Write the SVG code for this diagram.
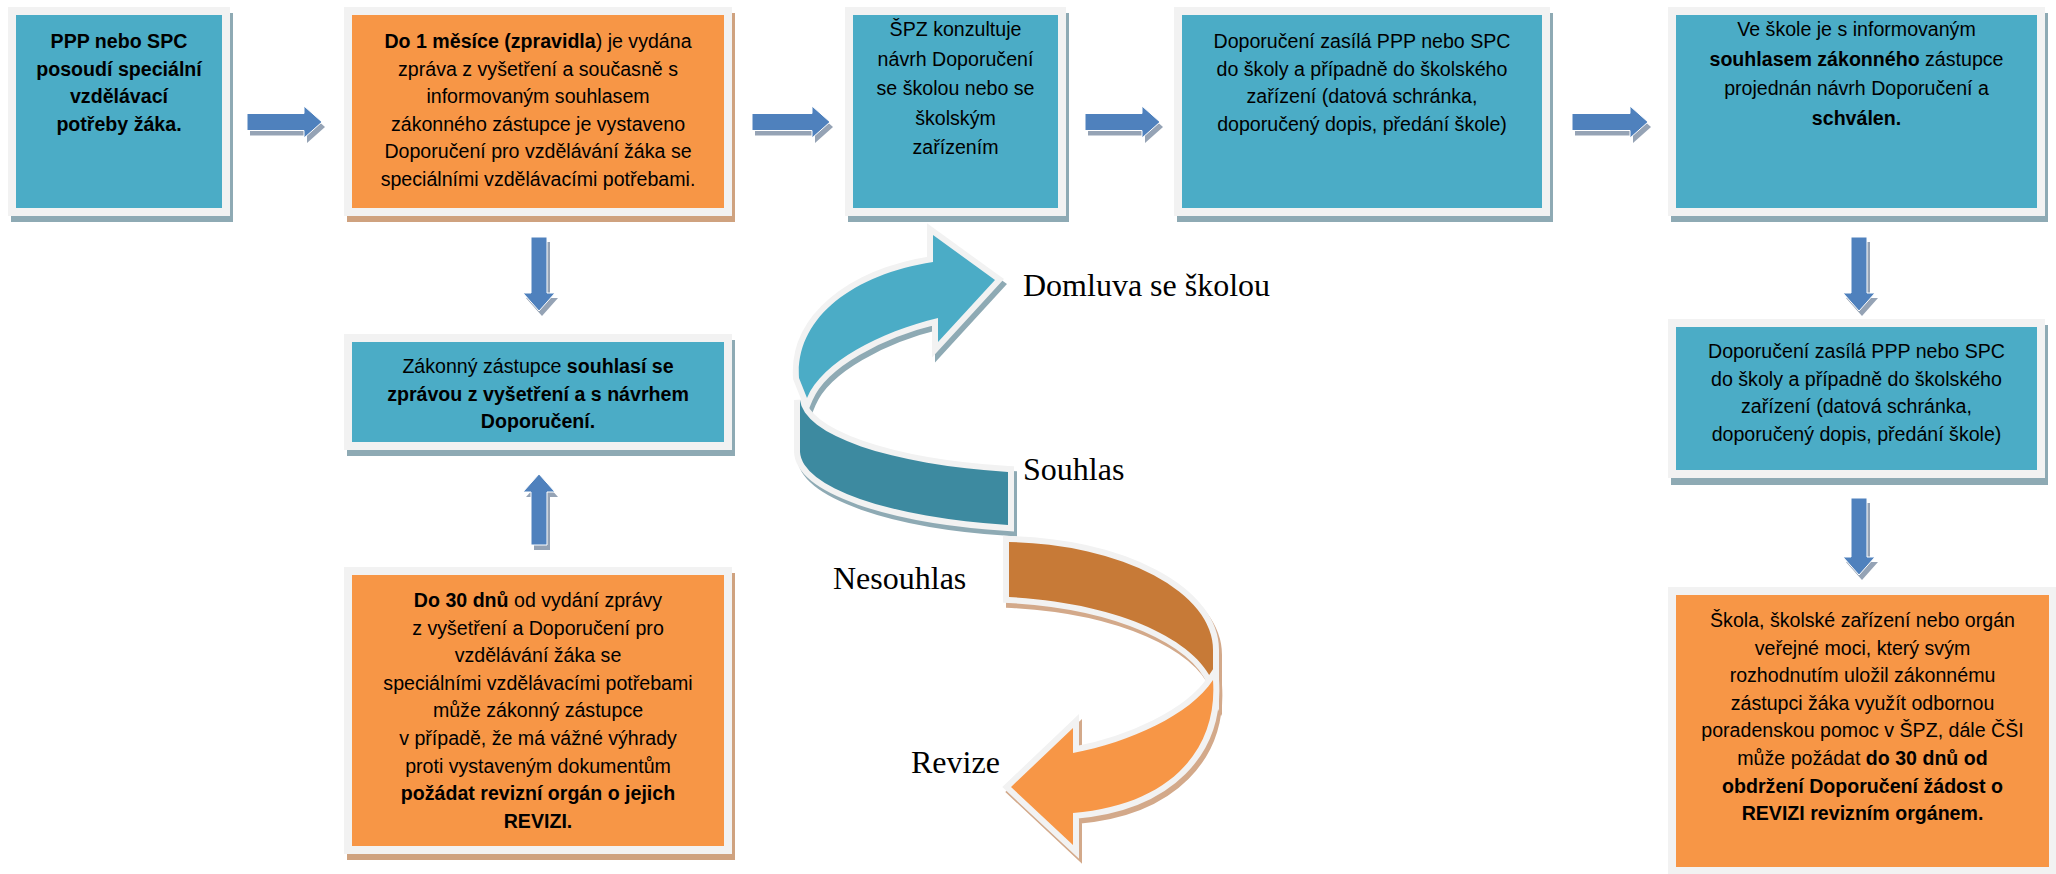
<svg xmlns="http://www.w3.org/2000/svg" width="2056" height="874" viewBox="0 0 2056 874">
<style>
.frame{fill:#f2f2f2}
.teal{fill:#4bacc6}
.orange{fill:#f79646}
.shT{fill:#8eaab4}
.shO{fill:#cfa27f}
.t{font-family:"Liberation Sans",Arial,sans-serif;font-size:19.6px;fill:#000;text-anchor:middle}
.b{font-weight:bold}
.lbl{font-family:"Liberation Serif","Times New Roman",serif;font-size:32px;fill:#000}
.arr{fill:#4f81bd;stroke:#ffffff;stroke-width:1}
.arrsh{fill:#95a3b5}
.rib{stroke:#f2f2f2;stroke-width:12;stroke-linejoin:miter;stroke-miterlimit:6;paint-order:stroke}
.ribShT{fill:#8eaab4;stroke:#8eaab4;stroke-width:12;stroke-linejoin:miter;stroke-miterlimit:6}
.ribShO{fill:#d3a98a;stroke:#d3a98a;stroke-width:12;stroke-linejoin:miter;stroke-miterlimit:6}
</style>
<rect width="2056" height="874" fill="#ffffff"/>

<g id="connectors">
  <g id="arrow-right-1">
    <polygon class="arrsh" transform="translate(3,5)" points="247,113.5 304,113.5 304,106 322,122 304,138 304,130.5 247,130.5"/>
    <polygon class="arr" points="247,113.5 304,113.5 304,106 322,122 304,138 304,130.5 247,130.5"/>
  </g>
  <g id="arrow-right-2">
    <polygon class="arrsh" transform="translate(3,5)" points="752,113.5 812,113.5 812,106 830,122 812,138 812,130.5 752,130.5"/>
    <polygon class="arr" points="752,113.5 812,113.5 812,106 830,122 812,138 812,130.5 752,130.5"/>
  </g>
  <g id="arrow-right-3">
    <polygon class="arrsh" transform="translate(3,5)" points="1085,113.5 1142,113.5 1142,106 1160,122 1142,138 1142,130.5 1085,130.5"/>
    <polygon class="arr" points="1085,113.5 1142,113.5 1142,106 1160,122 1142,138 1142,130.5 1085,130.5"/>
  </g>
  <g id="arrow-right-4">
    <polygon class="arrsh" transform="translate(3,5)" points="1572,113.5 1630,113.5 1630,106 1648,122 1630,138 1630,130.5 1572,130.5"/>
    <polygon class="arr" points="1572,113.5 1630,113.5 1630,106 1648,122 1630,138 1630,130.5 1572,130.5"/>
  </g>
  <g id="arrow-down-1">
    <polygon class="arrsh" transform="translate(3,5)" points="531,237 547,237 547,293 555,293 539,311 523,293 531,293"/>
    <polygon class="arr" points="531,237 547,237 547,293 555,293 539,311 523,293 531,293"/>
  </g>
  <g id="arrow-up-1">
    <polygon class="arrsh" transform="translate(3,5)" points="539,474 555,492 547,492 547,545 531,545 531,492 523,492"/>
    <polygon class="arr" points="539,474 555,492 547,492 547,545 531,545 531,492 523,492"/>
  </g>
  <g id="arrow-down-2">
    <polygon class="arrsh" transform="translate(3,5)" points="1851,237 1867,237 1867,293 1875,293 1859,311 1843,293 1851,293"/>
    <polygon class="arr" points="1851,237 1867,237 1867,293 1875,293 1859,311 1843,293 1851,293"/>
  </g>
  <g id="arrow-down-3">
    <polygon class="arrsh" transform="translate(3,5)" points="1851,498 1867,498 1867,557 1875,557 1859,575 1843,557 1851,557"/>
    <polygon class="arr" points="1851,498 1867,498 1867,557 1875,557 1859,575 1843,557 1851,557"/>
  </g>
  <g id="curved-teal">
    <g transform="translate(3,5)">
      <path class="ribShT" d="M 800,400 A 263 76 0 0 0 1008,472 L 1008,525 A 263 76 0 0 1 800,452 Z"/>
      <path class="ribShT" d="M 933,262 L 933,235 L 995,280 L 938,342 L 938,318 C 880,332 822,362 807,398 L 799,378 C 795,320 850,275 933,262 Z"/>
    </g>
    <path class="rib" fill="#3d8aa0" d="M 800,400 A 263 76 0 0 0 1008,472 L 1008,525 A 263 76 0 0 1 800,452 Z"/>
    <path class="rib" fill="#4bacc6" d="M 933,262 L 933,235 L 995,280 L 938,342 L 938,318 C 880,332 822,362 807,398 L 799,378 C 795,320 850,275 933,262 Z"/>
  </g>
  <g id="curved-orange">
    <g transform="translate(3,5)">
      <path class="ribShO" d="M 1009,542 A 213 108 0 0 1 1213,650 L 1213,682 C 1195,640 1120,603 1009,597 Z"/>
      <path class="ribShO" d="M 1213,680 C 1218,750 1170,805 1073,813 L 1073,845 L 1011,787 L 1073,728 L 1073,753 C 1130,742 1190,715 1213,680 Z"/>
    </g>
    <path class="rib" fill="#c77a37" d="M 1009,542 A 213 108 0 0 1 1213,650 L 1213,682 C 1195,640 1120,603 1009,597 Z"/>
    <path class="rib" fill="#f79646" d="M 1213,680 C 1218,750 1170,805 1073,813 L 1073,845 L 1011,787 L 1073,728 L 1073,753 C 1130,742 1190,715 1213,680 Z"/>
  </g>
  <g id="labels">
    <text class="lbl" x="1023" y="296">Domluva se školou</text>
    <text class="lbl" x="1023" y="480">Souhlas</text>
    <text class="lbl" x="833" y="589">Nesouhlas</text>
    <text class="lbl" x="911" y="773">Revize</text>
  </g>
</g>

<g id="box1">
  <rect class="shT" x="11" y="13" width="222" height="209"/>
  <rect class="frame" x="8" y="7" width="222" height="209"/>
  <rect class="teal" x="16" y="15" width="206" height="193"/>
  <text class="t b" x="119" y="48">PPP nebo SPC</text>
  <text class="t b" x="119" y="75.6">posoudí speciální</text>
  <text class="t b" x="119" y="103.2">vzdělávací</text>
  <text class="t b" x="119" y="130.8">potřeby žáka.</text>
</g>

<g id="box2">
  <rect class="shO" x="347" y="13" width="388" height="209"/>
  <rect class="frame" x="344" y="7" width="388" height="209"/>
  <rect class="orange" x="352" y="15" width="372" height="193"/>
  <text class="t" x="538" y="48"><tspan class="b">Do 1 měsíce (zpravidla</tspan>) je vydána</text>
  <text class="t" x="538" y="75.6">zpráva z vyšetření a současně s</text>
  <text class="t" x="538" y="103.2">informovaným souhlasem</text>
  <text class="t" x="538" y="130.8">zákonného zástupce je vystaveno</text>
  <text class="t" x="538" y="158.4">Doporučení pro vzdělávání žáka se</text>
  <text class="t" x="538" y="186">speciálními vzdělávacími potřebami.</text>
</g>

<g id="box3">
  <rect class="shT" x="848" y="13" width="221" height="209"/>
  <rect class="frame" x="845" y="7" width="221" height="209"/>
  <rect class="teal" x="853" y="15" width="205" height="193"/>
  <text class="t" x="955.5" y="36">ŠPZ konzultuje</text>
  <text class="t" x="955.5" y="65.5">návrh Doporučení</text>
  <text class="t" x="955.5" y="95">se školou nebo se</text>
  <text class="t" x="955.5" y="124.5">školským</text>
  <text class="t" x="955.5" y="154">zařízením</text>
</g>

<g id="box4">
  <rect class="shT" x="1177" y="13" width="376" height="209"/>
  <rect class="frame" x="1174" y="7" width="376" height="209"/>
  <rect class="teal" x="1182" y="15" width="360" height="193"/>
  <text class="t" x="1362" y="48">Doporučení zasílá PPP nebo SPC</text>
  <text class="t" x="1362" y="75.6">do školy a případně do školského</text>
  <text class="t" x="1362" y="103.2">zařízení (datová schránka,</text>
  <text class="t" x="1362" y="130.8">doporučený dopis, předání škole)</text>
</g>

<g id="box5">
  <rect class="shT" x="1671" y="13" width="377" height="209"/>
  <rect class="frame" x="1668" y="7" width="377" height="209"/>
  <rect class="teal" x="1676" y="15" width="361" height="193"/>
  <text class="t" x="1856.5" y="36">Ve škole je s informovaným</text>
  <text class="t" x="1856.5" y="65.5"><tspan class="b">souhlasem zákonného</tspan> zástupce</text>
  <text class="t" x="1856.5" y="95">projednán návrh Doporučení a</text>
  <text class="t b" x="1856.5" y="124.5">schválen.</text>
</g>

<g id="box-zakonny">
  <rect class="shT" x="347" y="340" width="388" height="116"/>
  <rect class="frame" x="344" y="334" width="388" height="116"/>
  <rect class="teal" x="352" y="342" width="372" height="100"/>
  <text class="t" x="538" y="373">Zákonný zástupce <tspan class="b">souhlasí se</tspan></text>
  <text class="t b" x="538" y="400.6">zprávou z vyšetření a s návrhem</text>
  <text class="t b" x="538" y="428.2">Doporučení.</text>
</g>

<g id="box-revize">
  <rect class="shO" x="347" y="573" width="388" height="287"/>
  <rect class="frame" x="344" y="567" width="388" height="287"/>
  <rect class="orange" x="352" y="575" width="372" height="271"/>
  <text class="t" x="538" y="607"><tspan class="b">Do 30 dnů</tspan> od vydání zprávy</text>
  <text class="t" x="538" y="634.6">z vyšetření a Doporučení pro</text>
  <text class="t" x="538" y="662.2">vzdělávání žáka se</text>
  <text class="t" x="538" y="689.8">speciálními vzdělávacími potřebami</text>
  <text class="t" x="538" y="717.4">může zákonný zástupce</text>
  <text class="t" x="538" y="745">v případě, že má vážné výhrady</text>
  <text class="t" x="538" y="772.6">proti vystaveným dokumentům</text>
  <text class="t b" x="538" y="800.2">požádat revizní orgán o jejich</text>
  <text class="t b" x="538" y="827.8">REVIZI.</text>
</g>

<g id="box6">
  <rect class="shT" x="1671" y="325" width="377" height="160"/>
  <rect class="frame" x="1668" y="319" width="377" height="159"/>
  <rect class="teal" x="1676" y="327" width="361" height="143"/>
  <text class="t" x="1856.5" y="358">Doporučení zasílá PPP nebo SPC</text>
  <text class="t" x="1856.5" y="385.6">do školy a případně do školského</text>
  <text class="t" x="1856.5" y="413.2">zařízení (datová schránka,</text>
  <text class="t" x="1856.5" y="440.8">doporučený dopis, předání škole)</text>
</g>

<g id="box7">
  <rect class="frame" x="1668" y="587" width="388" height="287"/>
  <rect class="orange" x="1676" y="595" width="373" height="272"/>
  <text class="t" x="1862.5" y="627">Škola, školské zařízení nebo orgán</text>
  <text class="t" x="1862.5" y="654.6">veřejné moci, který svým</text>
  <text class="t" x="1862.5" y="682.2">rozhodnutím uložil zákonnému</text>
  <text class="t" x="1862.5" y="709.8">zástupci žáka využít odbornou</text>
  <text class="t" x="1862.5" y="737.4">poradenskou pomoc v ŠPZ, dále ČŠI</text>
  <text class="t" x="1862.5" y="765">může požádat <tspan class="b">do 30 dnů od</tspan></text>
  <text class="t b" x="1862.5" y="792.6">obdržení Doporučení žádost o</text>
  <text class="t b" x="1862.5" y="820.2">REVIZI revizním orgánem.</text>
</g>
</svg>
